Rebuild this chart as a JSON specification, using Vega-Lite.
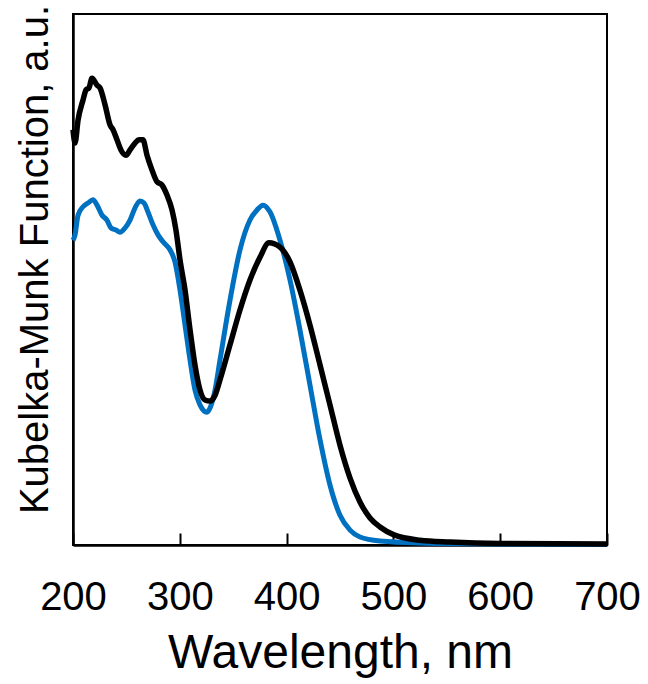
{
  "$schema": "https://vega.github.io/schema/vega-lite/v6.json",
  "width": 534,
  "height": 531,
  "autosize": "none",
  "padding": {"left": 73, "top": 14, "right": 41, "bottom": 139},
  "config": {
    "font": "Liberation Sans",
    "view": {"stroke": "#000000", "strokeWidth": 2},
    "axis": {"grid": false, "domainColor": "#000000", "domainWidth": 2.5, "tickColor": "#000000", "labelColor": "#000000", "titleColor": "#000000", "titleFontWeight": "normal"}
  },
  "datasets": {
    "blue": [
      {"wl": 200, "km": 57.4}, {"wl": 201.9, "km": 58.4}, {"wl": 204.7, "km": 62.1}, {"wl": 209.4, "km": 63.7},
      {"wl": 214.0, "km": 64.4}, {"wl": 218.7, "km": 65.0}, {"wl": 222.5, "km": 64.0}, {"wl": 227.2, "km": 62.1},
      {"wl": 231.8, "km": 61.2}, {"wl": 235.6, "km": 59.7}, {"wl": 240.3, "km": 59.3}, {"wl": 244.0, "km": 58.9},
      {"wl": 248.7, "km": 59.7}, {"wl": 253.4, "km": 61.2}, {"wl": 258.1, "km": 63.5}, {"wl": 262.7, "km": 64.8},
      {"wl": 266.5, "km": 64.4}, {"wl": 270.2, "km": 62.7}, {"wl": 274.9, "km": 60.3}, {"wl": 279.6, "km": 58.4},
      {"wl": 284.3, "km": 57.1}, {"wl": 290.8, "km": 55.6}, {"wl": 295.5, "km": 53.3}, {"wl": 300.2, "km": 48.0},
      {"wl": 304.9, "km": 41.4}, {"wl": 309.6, "km": 34.8}, {"wl": 314.2, "km": 29.2}, {"wl": 318.9, "km": 26.4},
      {"wl": 325.5, "km": 25.0}, {"wl": 328.3, "km": 25.8}, {"wl": 333.0, "km": 29.2}, {"wl": 337.6, "km": 34.8},
      {"wl": 347.0, "km": 46.1}, {"wl": 356.4, "km": 55.6}, {"wl": 365.7, "km": 61.2}, {"wl": 372.3, "km": 63.1},
      {"wl": 377.9, "km": 64.0}, {"wl": 384.5, "km": 62.7}, {"wl": 393.8, "km": 57.4}, {"wl": 403.2, "km": 49.9},
      {"wl": 412.5, "km": 40.5}, {"wl": 421.9, "km": 30.1}, {"wl": 431.3, "km": 19.8}, {"wl": 440.6, "km": 11.3},
      {"wl": 450.0, "km": 5.6}, {"wl": 459.4, "km": 2.8}, {"wl": 468.7, "km": 1.5}, {"wl": 487.5, "km": 0.75},
      {"wl": 524.9, "km": 0.38}, {"wl": 599.8, "km": 0.19}, {"wl": 700, "km": 0.1}
    ],
    "black": [
      {"wl": 200, "km": 78.2}, {"wl": 201.9, "km": 75.7}, {"wl": 204.7, "km": 80.0}, {"wl": 209.4, "km": 83.8},
      {"wl": 212.2, "km": 85.7}, {"wl": 215.0, "km": 86.1}, {"wl": 217.8, "km": 87.9}, {"wl": 222.5, "km": 86.6},
      {"wl": 225.3, "km": 86.1}, {"wl": 230.0, "km": 82.9}, {"wl": 234.7, "km": 79.1}, {"wl": 237.5, "km": 78.2},
      {"wl": 241.2, "km": 76.3}, {"wl": 244.9, "km": 74.4}, {"wl": 249.6, "km": 73.4}, {"wl": 253.4, "km": 74.4},
      {"wl": 258.1, "km": 75.7}, {"wl": 261.8, "km": 76.3}, {"wl": 265.5, "km": 76.3}, {"wl": 269.3, "km": 73.4},
      {"wl": 274.0, "km": 70.6}, {"wl": 278.7, "km": 68.4}, {"wl": 283.3, "km": 67.8}, {"wl": 288.0, "km": 65.9},
      {"wl": 292.7, "km": 63.1}, {"wl": 296.4, "km": 59.3}, {"wl": 300.2, "km": 53.7}, {"wl": 304.9, "km": 48.0},
      {"wl": 309.6, "km": 40.5}, {"wl": 314.2, "km": 33.9}, {"wl": 318.9, "km": 29.2}, {"wl": 323.6, "km": 27.3},
      {"wl": 328.3, "km": 27.1}, {"wl": 333.0, "km": 28.2}, {"wl": 337.6, "km": 31.1}, {"wl": 347.0, "km": 37.7},
      {"wl": 356.4, "km": 44.3}, {"wl": 365.7, "km": 49.9}, {"wl": 375.1, "km": 54.2}, {"wl": 383.5, "km": 56.9},
      {"wl": 393.8, "km": 56.1}, {"wl": 403.2, "km": 53.3}, {"wl": 412.5, "km": 48.0}, {"wl": 421.9, "km": 41.4},
      {"wl": 431.3, "km": 33.9}, {"wl": 440.6, "km": 26.4}, {"wl": 450.0, "km": 18.8}, {"wl": 459.4, "km": 12.6},
      {"wl": 468.7, "km": 8.1}, {"wl": 478.1, "km": 5.1}, {"wl": 487.5, "km": 3.4}, {"wl": 500.6, "km": 1.9},
      {"wl": 524.9, "km": 0.9}, {"wl": 553.0, "km": 0.56}, {"wl": 599.8, "km": 0.28}, {"wl": 700, "km": 0.19}
    ]
  },
  "encoding": {
    "x": {"field": "wl", "type": "quantitative", "scale": {"domain": [200, 700], "nice": false, "zero": false},
      "axis": {"title": "Wavelength, nm", "values": [200, 300, 400, 500, 600, 700], "tickSize": -12, "tickWidth": 2, "labelFontSize": 40, "labelPadding": 44, "titleFontSize": 48, "titlePadding": 12, "labelFlush": false, "labelOverlap": false}},
    "y": {"field": "km", "type": "quantitative", "scale": {"domain": [0, 100], "nice": false},
      "axis": {"title": "Kubelka-Munk Function, a.u.", "labels": false, "ticks": false, "titleFontSize": 40, "titleX": -18, "titleY": 245}}
  },
  "layer": [
    {"data": {"name": "blue"}, "mark": {"type": "line", "stroke": "#0070C0", "strokeWidth": 5, "interpolate": "monotone", "strokeJoin": "round"}},
    {"data": {"name": "black"}, "mark": {"type": "line", "stroke": "#000000", "strokeWidth": 5.5, "interpolate": "monotone", "strokeJoin": "round"}}
  ]
}
